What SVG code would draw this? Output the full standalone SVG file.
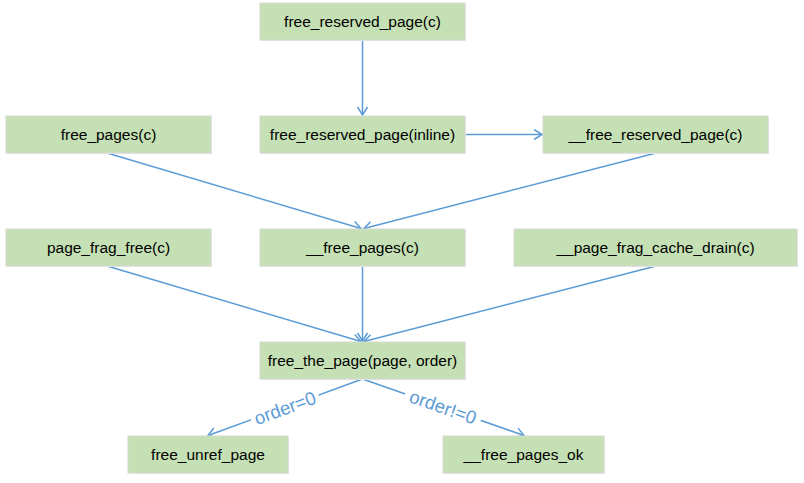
<svg xmlns="http://www.w3.org/2000/svg" width="804" height="483" viewBox="0 0 804 483">
<style>
.box{fill:#C5E0B4;stroke:#D4D9D0;stroke-width:1}
.shadow{fill:#E6E9EE}
.t{font-family:"Liberation Sans",Arial,sans-serif;font-size:15.5px;fill:#000;text-anchor:middle;dominant-baseline:central}
.e{fill:none;stroke:#5B9BD5;stroke-width:1.5;marker-end:url(#arr)}
.lbl{font-family:"Liberation Sans",Arial,sans-serif;font-size:18.5px;fill:#5B9BD5;text-anchor:middle;dominant-baseline:central}
.bg{fill:#fff}
</style>
<defs>
<marker id="arr" markerWidth="12" markerHeight="12" refX="9" refY="6" orient="auto" markerUnits="userSpaceOnUse">
<path d="M1,1 L9,6 L1,11" fill="none" stroke="#5B9BD5" stroke-width="1.5"/>
</marker>
</defs>
<rect width="804" height="483" fill="#fff"/>
<g id="connectors">
<line class="e" x1="362.5" y1="40" x2="362.5" y2="115"/>
<line class="e" x1="465" y1="134.5" x2="542" y2="134.5"/>
<line class="e" x1="107" y1="153" x2="361" y2="228.5"/>
<line class="e" x1="656" y1="153" x2="364" y2="228.5"/>
<line class="e" x1="107" y1="266" x2="361" y2="341.5"/>
<line class="e" x1="362.5" y1="266" x2="362.5" y2="341"/>
<line class="e" x1="656" y1="266" x2="364" y2="341.5"/>
<line class="e" x1="362.5" y1="379" x2="208" y2="435.5"/>
<line class="e" x1="362.5" y1="379" x2="524" y2="435.5"/>
<g transform="translate(285,408) rotate(-20.1)">
<rect class="bg" x="-36" y="-9" width="72" height="18"/>
<text class="lbl" x="0" y="0">order=0</text>
</g>
<g transform="translate(443,407) rotate(19.3)">
<rect class="bg" x="-40" y="-9" width="80" height="18"/>
<text class="lbl" x="0" y="0">order!=0</text>
</g>
</g>
<g id="n1"><rect class="shadow" x="261" y="4" width="205" height="37"/><rect class="box" x="260" y="3" width="205" height="37"/><text class="t" x="362.5" y="21.5">free_reserved_page(c)</text></g>
<g id="n2"><rect class="shadow" x="7" y="117" width="205" height="37"/><rect class="box" x="6" y="116" width="205" height="37"/><text class="t" x="108.5" y="134.5">free_pages(c)</text></g>
<g id="n3"><rect class="shadow" x="261" y="117" width="205" height="37"/><rect class="box" x="260" y="116" width="205" height="37"/><text class="t" x="362.5" y="134.5">free_reserved_page(inline)</text></g>
<g id="n4"><rect class="shadow" x="544" y="117" width="225" height="37"/><rect class="box" x="543" y="116" width="225" height="37"/><text class="t" x="655.5" y="134.5">__free_reserved_page(c)</text></g>
<g id="n5"><rect class="shadow" x="7" y="230" width="205" height="37"/><rect class="box" x="6" y="229" width="205" height="37"/><text class="t" x="108.5" y="247.5">page_frag_free(c)</text></g>
<g id="n6"><rect class="shadow" x="261" y="230" width="205" height="37"/><rect class="box" x="260" y="229" width="205" height="37"/><text class="t" x="362.5" y="247.5">__free_pages(c)</text></g>
<g id="n7"><rect class="shadow" x="515" y="230" width="283" height="37"/><rect class="box" x="514" y="229" width="283" height="37"/><text class="t" x="655.5" y="247.5">__page_frag_cache_drain(c)</text></g>
<g id="n8"><rect class="shadow" x="261" y="343" width="205" height="37"/><rect class="box" x="260" y="342" width="205" height="37"/><text class="t" x="362.5" y="360.5">free_the_page(page, order)</text></g>
<g id="n9"><rect class="shadow" x="129" y="437" width="160" height="37"/><rect class="box" x="128" y="436" width="160" height="37"/><text class="t" x="208" y="454.5">free_unref_page</text></g>
<g id="n10"><rect class="shadow" x="444" y="437" width="161" height="37"/><rect class="box" x="443" y="436" width="161" height="37"/><text class="t" x="523.5" y="454.5">__free_pages_ok</text></g>
</svg>
